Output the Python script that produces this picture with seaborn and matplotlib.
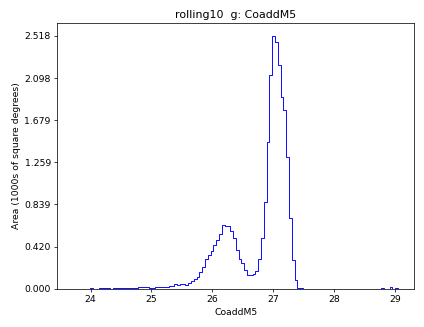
import numpy as np
import pandas as pd
import matplotlib
matplotlib.use("Agg")
import matplotlib.pyplot as plt
import seaborn as sns

# Histogram bins (CoaddM5 magnitude)
bin_start = 23.718
bin_width = 0.046
n_bins = 116

# Area per bin (1000s of square degrees)
area = [
    0, 0, 0, 0, 0, 0, 0.005, 0, 0, 0.005,
    0.005, 0.005, 0.005, 0, 0.005, 0.005, 0.005, 0.005, 0.005, 0.005,
    0.005, 0.005, 0.005, 0.014, 0.014, 0.014, 0.014, 0.004, 0.004, 0.015,
    0.015, 0.015, 0.015, 0.015, 0.027, 0.027, 0.05, 0.037, 0.044, 0.044,
    0.037, 0.054, 0.074, 0.094, 0.12, 0.17, 0.22, 0.30, 0.335, 0.38,
    0.435, 0.485, 0.545, 0.637, 0.624, 0.624, 0.577, 0.505, 0.388, 0.295,
    0.255, 0.19, 0.136, 0.136, 0.146, 0.18, 0.30, 0.505, 0.863, 1.466,
    2.13, 2.518, 2.46, 2.23, 1.91, 1.78, 1.31, 0.70, 0.29, 0.09,
    0.005, 0.005, 0, 0, 0, 0, 0, 0, 0, 0,
    0, 0, 0, 0, 0, 0, 0, 0, 0, 0,
    0, 0, 0, 0, 0, 0, 0, 0, 0, 0,
    0.005, 0, 0, 0.014, 0, 0.005,
]

title = "rolling10  g: CoaddM5"
xlabel = "CoaddM5"
ylabel = "Area (1000s of square degrees)"
x_ticks = [24, 25, 26, 27, 28, 29]

bin_end = bin_start + bin_width * n_bins
centers = bin_start + bin_width * (np.arange(n_bins) + 0.5)
df = pd.DataFrame({"CoaddM5": centers, "area": area})

W, H, DPI = 424, 327, 66.25
fig = plt.figure(figsize=(W / DPI, H / DPI), dpi=DPI)
ax = fig.add_axes([57.3 / W, 1 - 288.7 / H, (414.3 - 57.3) / W, (288.7 - 23.3) / H])

sns.histplot(data=df, x="CoaddM5", weights="area", bins=n_bins,
             binrange=(bin_start, bin_end),
             element="step", fill=False, color=(0, 0, 1), linewidth=1, ax=ax)

ymax = max(area)
ax.set_xlim(23.451, 29.322)
ax.set_ylim(0, ymax * 1.05)
yt = np.linspace(0, ymax, 7)
ax.set_yticks(yt)
ax.set_yticklabels(["%.3f" % v for v in yt])
ax.set_xticks(x_ticks)
ax.set_xticklabels([str(t) for t in x_ticks])
ax.set_xlabel(xlabel)
ax.set_ylabel(ylabel)
ax.set_title(title)

fig.savefig("out.png", dpi=DPI)
